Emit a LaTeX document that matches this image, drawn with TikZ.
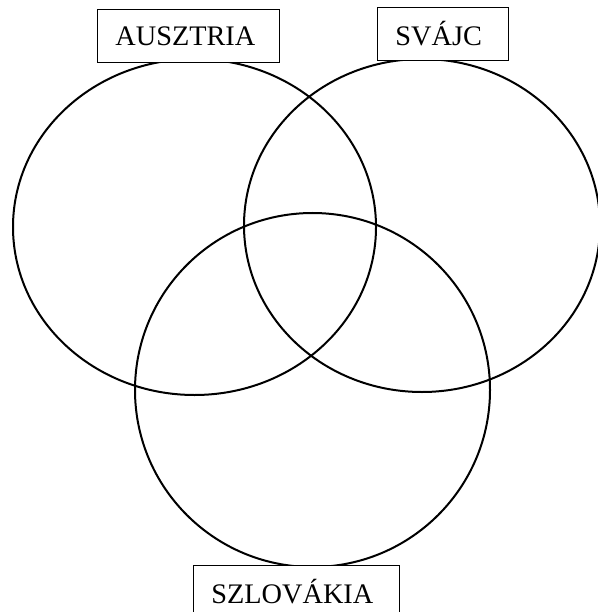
\documentclass[tikz,border=0pt]{standalone}
\usepackage{fontspec}
\setmainfont{Liberation Serif}
\begin{document}
\begin{tikzpicture}[x=1pt,y=-1pt]
    \tikzset{
        country/.style={draw, line width=0.8pt, minimum height=53pt, inner xsep=18pt,
            align=left, font=\fontsize{28.3}{31}\selectfont},
        set/.style={line width=2pt}
    }
    \useasboundingbox (0,0) rectangle (597,612);
    
    \draw[set] (194.5,227) ellipse [x radius=181.5, y radius=168];
    \draw[set] (422,225.5) ellipse [x radius=178, y radius=166.5];
    \draw[set] (312.5,390) ellipse [x radius=177.5, y radius=177];
    
    \node[country, text width=146pt, fill=white, anchor=north west] (ausztria) at (97,9) {AUSZTRIA};
    \node[country, text width=95pt, fill=white, anchor=north west] (svajc) at (377,7) {SVÁJC};
    \node[country, text width=170pt, fill=white, anchor=north west] (szlovakia) at (193,565) {SZLOVÁKIA};
\end{tikzpicture}
\end{document}
